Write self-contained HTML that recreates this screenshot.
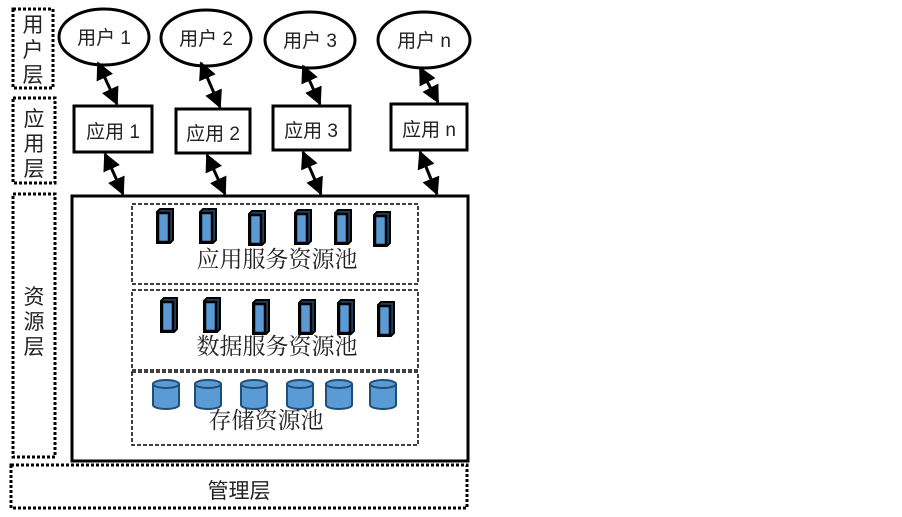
<!DOCTYPE html>
<html><head><meta charset="utf-8"><style>
body{margin:0;background:#fff;width:902px;height:512px;overflow:hidden}
svg text{font-family:"Liberation Sans","Noto Sans CJK SC",sans-serif;}
</style></head><body>
<svg width="902" height="512" xmlns="http://www.w3.org/2000/svg">
<defs>
<marker id="b" viewBox="0 0 10 10" markerWidth="18" markerHeight="18" refX="9" refY="5" orient="auto-start-reverse" markerUnits="userSpaceOnUse"><path d="M0,0 L10,5 L0,10z" fill="#000"/></marker>
<g id="srv"><path d="M0,3 L3,0 L16,0 L16,31 L13,34 L0,34z" fill="#1f3f5f" stroke="#000" stroke-width="2"/><rect x="1" y="4" width="11" height="29" fill="#5b9bd5" stroke="#000" stroke-width="2.5"/></g>
<g id="cyl"><path d="M0,5 L0,26 A13,4 0 0 0 26,26 L26,5" fill="#5b9bd5" stroke="#1f4e79" stroke-width="2"/><ellipse cx="13" cy="5" rx="13" ry="4" fill="#5b9bd5" stroke="#1f4e79" stroke-width="2"/></g>
</defs>
<g fill="none" stroke="#000" stroke-width="3" stroke-dasharray="3,2">
<rect x="13" y="9" width="40" height="79"/>
<rect x="13" y="98" width="42" height="85"/>
<rect x="13" y="194" width="42" height="263"/>
<rect x="11" y="465" width="456" height="43"/>
</g>
<g font-size="21" fill="#222">
<text x="33" y="32" text-anchor="middle">用</text><text x="33" y="57" text-anchor="middle">户</text><text x="33" y="82" text-anchor="middle">层</text>
<text x="34" y="126" text-anchor="middle">应</text><text x="34" y="151" text-anchor="middle">用</text><text x="34" y="176" text-anchor="middle">层</text>
<text x="34" y="304" text-anchor="middle">资</text><text x="34" y="329" text-anchor="middle">源</text><text x="34" y="354" text-anchor="middle">层</text>
<text x="239" y="498" text-anchor="middle">管理层</text>
</g>
<g fill="#fff" stroke="#000" stroke-width="3">
<ellipse cx="104" cy="37" rx="45" ry="28"/>
<ellipse cx="206" cy="38" rx="45" ry="28"/>
<ellipse cx="310" cy="40" rx="45" ry="28"/>
<ellipse cx="424" cy="40" rx="46" ry="28"/>
<rect x="74" y="106" width="78" height="46"/>
<rect x="176" y="109" width="74" height="44"/>
<rect x="273" y="106" width="77" height="44"/>
<rect x="391" y="104" width="76" height="46"/>
<rect x="72" y="196" width="396" height="265"/>
</g>
<g font-size="19" fill="#222" text-anchor="middle">
<text x="104" y="44">用户 1</text><text x="206" y="45">用户 2</text><text x="310" y="47">用户 3</text><text x="424" y="47">用户 n</text>
<text x="113" y="138">应用 1</text><text x="213" y="140">应用 2</text><text x="311" y="137">应用 3</text><text x="429" y="136">应用 n</text>
</g>
<g stroke="#000" stroke-width="3" marker-start="url(#b)" marker-end="url(#b)">
<line x1="98" y1="63" x2="117" y2="104"/>
<line x1="201" y1="63" x2="220" y2="107"/>
<line x1="303" y1="66" x2="320" y2="104"/>
<line x1="420" y1="68" x2="438" y2="102"/>
<line x1="105" y1="154" x2="123" y2="194"/>
<line x1="207" y1="155" x2="225" y2="194"/>
<line x1="303" y1="152" x2="321" y2="194"/>
<line x1="420" y1="152" x2="437" y2="194"/>
</g>
<g fill="none" stroke="#000" stroke-width="1.5" stroke-dasharray="4,2">
<rect x="132" y="204" width="286" height="80"/>
<rect x="132" y="290" width="286" height="80"/>
<rect x="132" y="372" width="286" height="73"/>
</g>
<use href="#srv" x="157" y="209"/><use href="#srv" x="200" y="209"/><use href="#srv" x="249" y="211"/><use href="#srv" x="295" y="210"/><use href="#srv" x="335" y="210"/><use href="#srv" x="374" y="212"/>
<use href="#srv" x="161" y="298"/><use href="#srv" x="204" y="298"/><use href="#srv" x="253" y="300"/><use href="#srv" x="299" y="300"/><use href="#srv" x="338" y="300"/><use href="#srv" x="378" y="302"/>
<use href="#cyl" x="153" y="379"/><use href="#cyl" x="195" y="379"/><use href="#cyl" x="241" y="379"/><use href="#cyl" x="287" y="379"/><use href="#cyl" x="326" y="379"/><use href="#cyl" x="370" y="379"/>
<g font-size="23" fill="#222" text-anchor="middle">
<text x="277" y="267" style="font-family:'Liberation Serif','Noto Serif CJK SC',serif">应用服务资源池</text>
<text x="277" y="354" style="font-family:'Liberation Serif','Noto Serif CJK SC',serif">数据服务资源池</text>
<text x="266" y="428" style="font-family:'Liberation Serif','Noto Serif CJK SC',serif">存储资源池</text>
</g>
</svg>
</body></html>
